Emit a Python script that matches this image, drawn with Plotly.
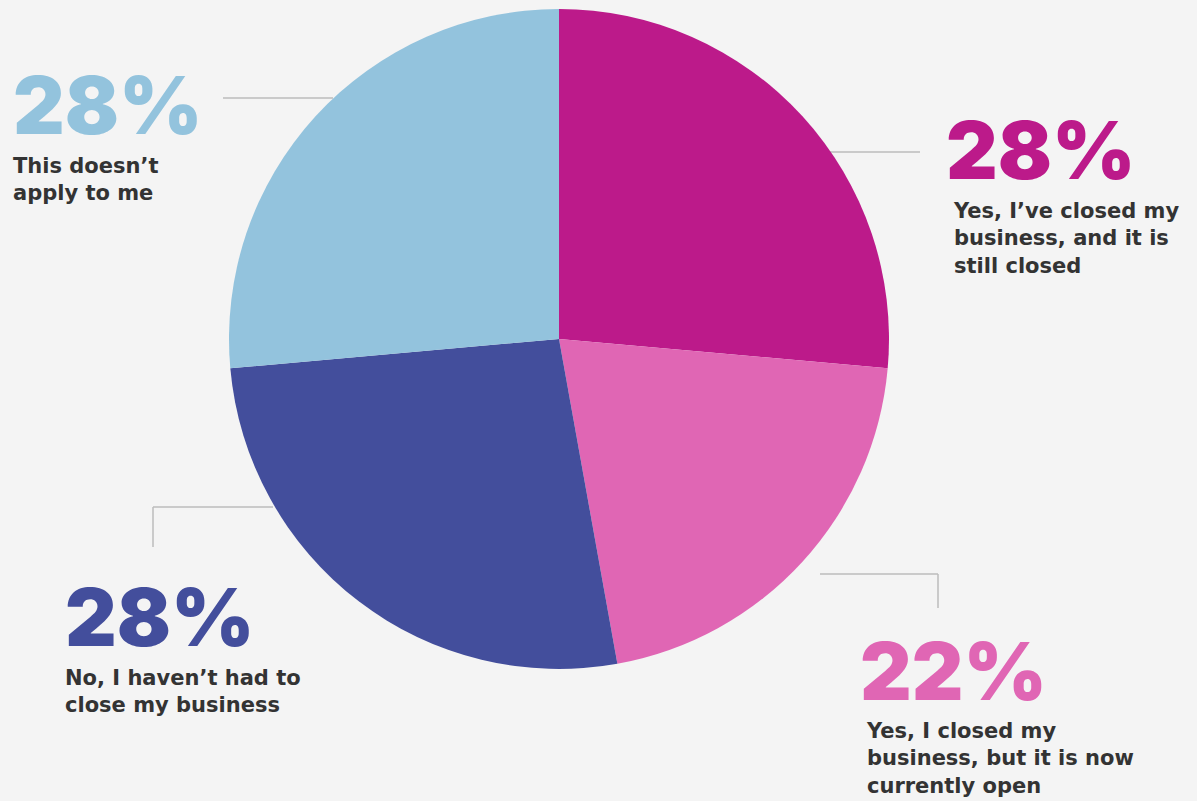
import plotly.graph_objects as go

# Survey answers, in clockwise order from 12 o'clock
answers = [
    "Yes, I’ve closed my<br>business, and it is<br>still closed",
    "Yes, I closed my<br>business, but it is now<br>currently open",
    "No, I haven’t had to<br>close my business",
    "This doesn’t<br>apply to me",
]
shares = [28, 22, 28, 28]
slice_colors = ["#bc1a8a", "#e066b4", "#434e9c", "#93c3dd"]

W, H = 1197, 801
BG = "#f4f4f4"
TEXT = "#333333"


def px(x):
    return x / W


def py(y):
    return 1 - y / H


fig = go.Figure(
    go.Pie(
        labels=[a.replace("<br>", " ") for a in answers],
        values=shares,
        sort=False,
        direction="clockwise",
        rotation=0,
        marker=dict(colors=slice_colors, line=dict(width=0)),
        textinfo="none",
        hovertemplate="%{label}: %{value}%<extra></extra>",
        domain=dict(x=[px(229), px(889)], y=[py(669), py(9)]),
        showlegend=False,
    )
)

# Callout layout: left edge of the number, its vertical centre,
# left edge of the caption and the top of the caption box
callouts = [
    (944, 149, 951, 197),
    (858, 670, 864, 717),
    (63, 616, 63, 664),
    (11, 104, 11, 152),
]

annotations = []
for (xn, yn, xl, yl), share, color, caption in zip(callouts, shares, slice_colors, answers):
    annotations.append(dict(
        x=px(xn), y=py(yn), xref="paper", yref="paper",
        xanchor="left", yanchor="middle", align="left", showarrow=False,
        text=f"{share}%", height=70, valign="middle",
        font=dict(family="Inter", size=80, color=color, weight=900),
    ))
    annotations.append(dict(
        x=px(xl), y=py(yl), xref="paper", yref="paper",
        xanchor="left", yanchor="top", align="left", showarrow=False,
        text=caption,
        font=dict(family="DejaVu Sans", size=21, color=TEXT, weight=700),
    ))

# Thin grey leader lines from each slice to its callout
leaders = [
    [(830, 152), (920, 152)],
    [(820, 574), (938, 574), (938, 608)],
    [(273, 507), (153, 507), (153, 547)],
    [(223, 98), (333, 98)],
]
shapes = []
for pts in leaders:
    for (xa, ya), (xb, yb) in zip(pts[:-1], pts[1:]):
        shapes.append(dict(
            type="line", xref="paper", yref="paper",
            x0=px(xa), y0=py(ya), x1=px(xb), y1=py(yb),
            line=dict(color="#bdbdbd", width=1.5), layer="below",
        ))

fig.update_layout(
    width=W, height=H,
    margin=dict(l=0, r=0, t=0, b=0),
    paper_bgcolor=BG, plot_bgcolor=BG,
    annotations=annotations,
    shapes=shapes,
)

fig.write_html("out.html")
